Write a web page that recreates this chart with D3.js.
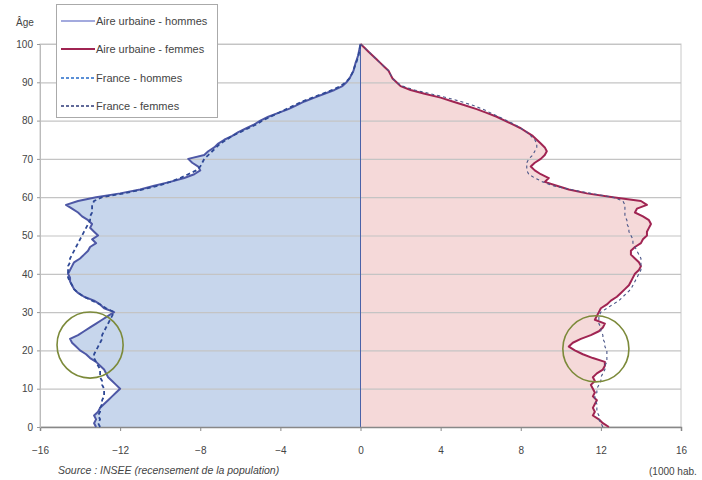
<!DOCTYPE html>
<html>
<head>
<meta charset="utf-8">
<script src="https://cdn.jsdelivr.net/npm/d3@7"></script>
<style>
  html, body { margin: 0; padding: 0; background: #fff; }
  svg { display: block; font-family: "Liberation Sans", Arial, sans-serif; }
</style>
</head>
<body>
<svg id="chart" width="702" height="480"></svg>
<script>
// ---- Data (ages 0..100, values in thousands of inhabitants) ----
const ages = d3.range(0, 101);

const urbanMen = [
  13.2, 13.3, 13.2, 13.3, 13.1, 13.0, 12.8, 12.6, 12.4, 12.2,
  12.0, 12.2, 12.4, 12.6, 12.7, 12.8, 13.0, 13.2, 13.5, 13.7,
  14.0, 14.2, 14.4, 14.5, 14.1, 13.8, 13.5, 13.2, 12.9, 12.6,
  12.3, 12.8, 13.0, 13.3, 13.8, 14.1, 14.3, 14.4, 14.5, 14.5,
  14.6, 14.5, 14.4, 14.3, 14.0, 13.8, 13.6, 13.5, 13.2, 13.4,
  13.1, 13.3, 13.5, 13.4, 13.6, 13.9, 14.1, 14.4, 14.7, 14.1,
  13.2, 12.0, 11.0, 10.3, 9.5, 8.8, 8.3, 8.0, 8.1, 8.4,
  8.6, 7.8, 7.6, 7.3, 7.1, 6.8, 6.4, 6.1, 5.7, 5.3,
  5.0, 4.6, 4.1, 3.6, 3.2, 2.8, 2.3, 1.8, 1.3, 0.9,
  0.7, 0.55, 0.45, 0.35, 0.3, 0.25, 0.18, 0.12, 0.08, 0.04, 0.0
];

const urbanWomen = [
  12.4, 12.1, 11.9, 11.6, 11.7, 11.6, 11.7, 11.8, 11.6, 11.7,
  11.6, 11.5, 11.7, 11.6, 11.8, 12.1, 12.2, 12.2, 11.6, 11.1,
  10.7, 10.4, 10.6, 11.0, 11.5, 11.9, 12.1, 12.2, 11.7, 11.8,
  11.9, 12.0, 12.3, 12.5, 12.8, 13.0, 13.2, 13.4, 13.5, 13.6,
  13.7, 13.9, 14.0, 13.9, 13.7, 13.5, 13.5, 13.7, 14.0, 14.1,
  14.3, 14.3, 14.4, 14.5, 14.4, 14.1, 13.7, 13.8, 14.3, 14.0,
  12.6, 11.3, 10.4, 9.8, 9.2, 9.4, 9.0, 8.7, 8.5, 8.7,
  9.0, 9.2, 9.3, 9.2, 9.0, 8.8, 8.6, 8.3, 8.0, 7.6,
  7.2, 6.8, 6.3, 5.8, 5.2, 4.6, 4.0, 3.2, 2.5, 2.0,
  1.8, 1.6, 1.5, 1.4, 1.2, 1.0, 0.8, 0.6, 0.4, 0.2, 0.0
];

const franceMen = [
  13.0, 13.1, 13.0, 13.1, 13.0, 13.0, 12.9, 12.9, 12.8, 12.8,
  12.8, 12.9, 12.9, 13.0, 13.0, 13.0, 13.1, 13.2, 13.3, 13.3,
  13.2, 13.1, 13.0, 12.9, 12.9, 12.8, 12.7, 12.6, 12.5, 12.4,
  12.3, 12.7, 13.0, 13.4, 13.8, 14.1, 14.3, 14.4, 14.5, 14.6,
  14.6, 14.6, 14.6, 14.5, 14.5, 14.4, 14.3, 14.2, 14.1, 14.0,
  13.9, 13.8, 13.7, 13.6, 13.5, 13.5, 13.4, 13.4, 13.4, 13.3,
  12.9, 11.8, 10.9, 10.1, 9.5, 9.0, 8.6, 8.2, 8.0, 7.9,
  7.8, 7.6, 7.4, 7.2, 7.0, 6.7, 6.4, 6.0, 5.6, 5.2,
  4.9, 4.5, 4.1, 3.7, 3.3, 2.9, 2.4, 1.9, 1.4, 1.0,
  0.75, 0.55, 0.45, 0.35, 0.3, 0.22, 0.16, 0.1, 0.06, 0.03, 0.0
];

const franceWomen = [
  12.1, 12.0, 11.9, 11.9, 11.8, 11.8, 11.8, 11.7, 11.7, 11.8,
  11.8, 11.9, 12.0, 12.0, 12.1, 12.2, 12.2, 12.3, 12.3, 12.3,
  12.3, 12.2, 12.2, 12.1, 12.1, 12.0, 12.0, 11.9, 11.9, 11.9,
  12.0, 12.3, 12.6, 12.9, 13.1, 13.3, 13.5, 13.6, 13.7, 13.8,
  13.9, 14.0, 14.0, 14.0, 14.0, 13.9, 13.8, 13.7, 13.6, 13.6,
  13.5, 13.4, 13.4, 13.3, 13.3, 13.2, 13.2, 13.2, 13.2, 13.1,
  12.6, 11.5, 10.5, 9.6, 9.1, 8.7, 8.4, 8.3, 8.3, 8.3,
  8.4, 8.6, 8.7, 8.8, 8.8, 8.7, 8.5, 8.3, 8.0, 7.7,
  7.3, 6.9, 6.5, 6.1, 5.6, 5.0, 4.3, 3.5, 2.7, 2.1,
  1.8, 1.6, 1.5, 1.4, 1.2, 1.0, 0.8, 0.6, 0.4, 0.2, 0.0
];

const xTicks = [-16, -12, -8, -4, 0, 4, 8, 12, 16];
const yTicks = [0, 10, 20, 30, 40, 50, 60, 70, 80, 90, 100];
const seriesNames = ["Aire urbaine - hommes", "Aire urbaine - femmes", "France - hommes", "France - femmes"];
// highlighted zones: [value (thousands, signed), age]
const circleCenters = [[-13.5, 21.4], [11.75, 20.4]];

// ---- Drawing ----
const svg = d3.select("#chart");
const x = d3.scaleLinear().domain([-16, 16]).range([40, 681]);
const y = d3.scaleLinear().domain([0, 100]).range([427, 44]);

const colUM = "#4e58a6", colUW = "#a02452", colFM = "#2f4996", colFW = "#4a5688";
const FONT = "'Liberation Sans', Arial, sans-serif";

// plot frame
svg.append("rect").attr("x", x(-16)).attr("y", y(100))
  .attr("width", x(16) - x(-16)).attr("height", y(0) - y(100))
  .attr("fill", "none").attr("stroke", "#c8c8c8").attr("stroke-width", 1);

// fills
const idx = d3.range(ages.length);
const areaM = d3.area().y(i => y(ages[i])).x0(x(0)).x1(i => x(-urbanMen[i]));
const areaW = d3.area().y(i => y(ages[i])).x0(x(0)).x1(i => x(urbanWomen[i]));
svg.append("path").attr("d", areaM(idx)).attr("fill", "#c7d6ec");
svg.append("path").attr("d", areaW(idx)).attr("fill", "#f5d9d9");

// gridlines
svg.append("g").selectAll("line").data(yTicks.filter(d => d > 0)).join("line")
  .attr("x1", x(-16)).attr("x2", x(16))
  .attr("y1", d => y(d) + 0.5).attr("y2", d => y(d) + 0.5)
  .attr("stroke", "#c4c4c4").attr("stroke-width", 1.2);

// zero vertical line
svg.append("line").attr("x1", x(0)).attr("x2", x(0)).attr("y1", y(100)).attr("y2", y(0))
  .attr("stroke", "#4a62a8").attr("stroke-width", 1);

// axes
const xAxis = d3.axisBottom(x).tickValues(xTicks).tickSize(4).tickFormat(d3.format("d"));
const gx = svg.append("g").attr("transform", `translate(0,${y(0)})`).call(xAxis);
gx.select(".domain").attr("stroke", "#888").attr("stroke-width", 1.5);
gx.selectAll(".tick line").attr("stroke", "#888");
gx.selectAll("text").attr("fill", "#444").attr("font-size", 10).attr("y", 27).attr("dy", "0")
  .style("font-family", FONT);

const yAxis = d3.axisLeft(y).tickValues(yTicks).tickSize(3).tickFormat(d3.format("d"));
const gy = svg.append("g").attr("transform", `translate(${x(-16)},0)`).call(yAxis);
gy.select(".domain").attr("stroke", "#bbb");
gy.selectAll(".tick line").attr("stroke", "#999");
gy.selectAll("text").attr("fill", "#444").attr("font-size", 10).attr("x", -7)
  .style("font-family", FONT);

// lines
const lineOf = (arr, sign) => d3.line().x(i => x(sign * arr[i])).y(i => y(ages[i]))(idx);
svg.append("path").attr("d", lineOf(urbanMen, -1)).attr("fill", "none")
  .attr("stroke", colUM).attr("stroke-width", 2).attr("stroke-linejoin", "round");
svg.append("path").attr("d", lineOf(urbanWomen, 1)).attr("fill", "none")
  .attr("stroke", colUW).attr("stroke-width", 2).attr("stroke-linejoin", "round");
svg.append("path").attr("d", lineOf(franceMen, -1)).attr("fill", "none")
  .attr("stroke", colFM).attr("stroke-width", 1.8).attr("stroke-dasharray", "4,3");
svg.append("path").attr("d", lineOf(franceWomen, 1)).attr("fill", "none")
  .attr("stroke", colFW).attr("stroke-width", 1.1).attr("stroke-dasharray", "3,3");

// highlight circles
const pxPerUnit = x(1) - x(0);
svg.append("g").selectAll("circle").data(circleCenters).join("circle")
  .attr("cx", d => x(d[0])).attr("cy", d => y(d[1])).attr("r", 1.65 * pxPerUnit)
  .attr("fill", "none").attr("stroke", "#7c8a3a").attr("stroke-width", 1.6);

// legend
const lg = svg.append("g");
lg.append("rect").attr("x", 56.5).attr("y", 4.5).attr("width", 161).attr("height", 113)
  .attr("fill", "#fff").attr("stroke", "#aaa");
const legStyles = [
  { c: "#a3aade", w: 2, dash: null },
  { c: colUW, w: 2, dash: null },
  { c: "#5a8fd6", w: 2, dash: "3,2" },
  { c: "#2e3a78", w: 1.3, dash: "3,2" }
];
const legY = [21, 49, 78, 106];
seriesNames.forEach((name, i) => {
  const s = legStyles[i];
  const l = lg.append("line").attr("x1", 61).attr("x2", 95).attr("y1", legY[i]).attr("y2", legY[i])
    .attr("stroke", s.c).attr("stroke-width", s.w);
  if (s.dash) l.attr("stroke-dasharray", s.dash);
  lg.append("text").attr("x", 96).attr("y", legY[i] + 4).attr("font-size", 11)
    .attr("fill", "#444").text(name);
});

// titles / notes
svg.append("text").attr("x", 16).attr("y", 26).attr("font-size", 10).attr("fill", "#444").text("Âge");
svg.append("text").attr("x", 58).attr("y", 474).attr("font-size", 10.5).attr("font-style", "italic")
  .attr("fill", "#444").text("Source : INSEE (recensement de la population)");
svg.append("text").attr("x", 649).attr("y", 475).attr("font-size", 10)
  .attr("fill", "#444").text("(1000 hab.");
</script>
</body>
</html>
